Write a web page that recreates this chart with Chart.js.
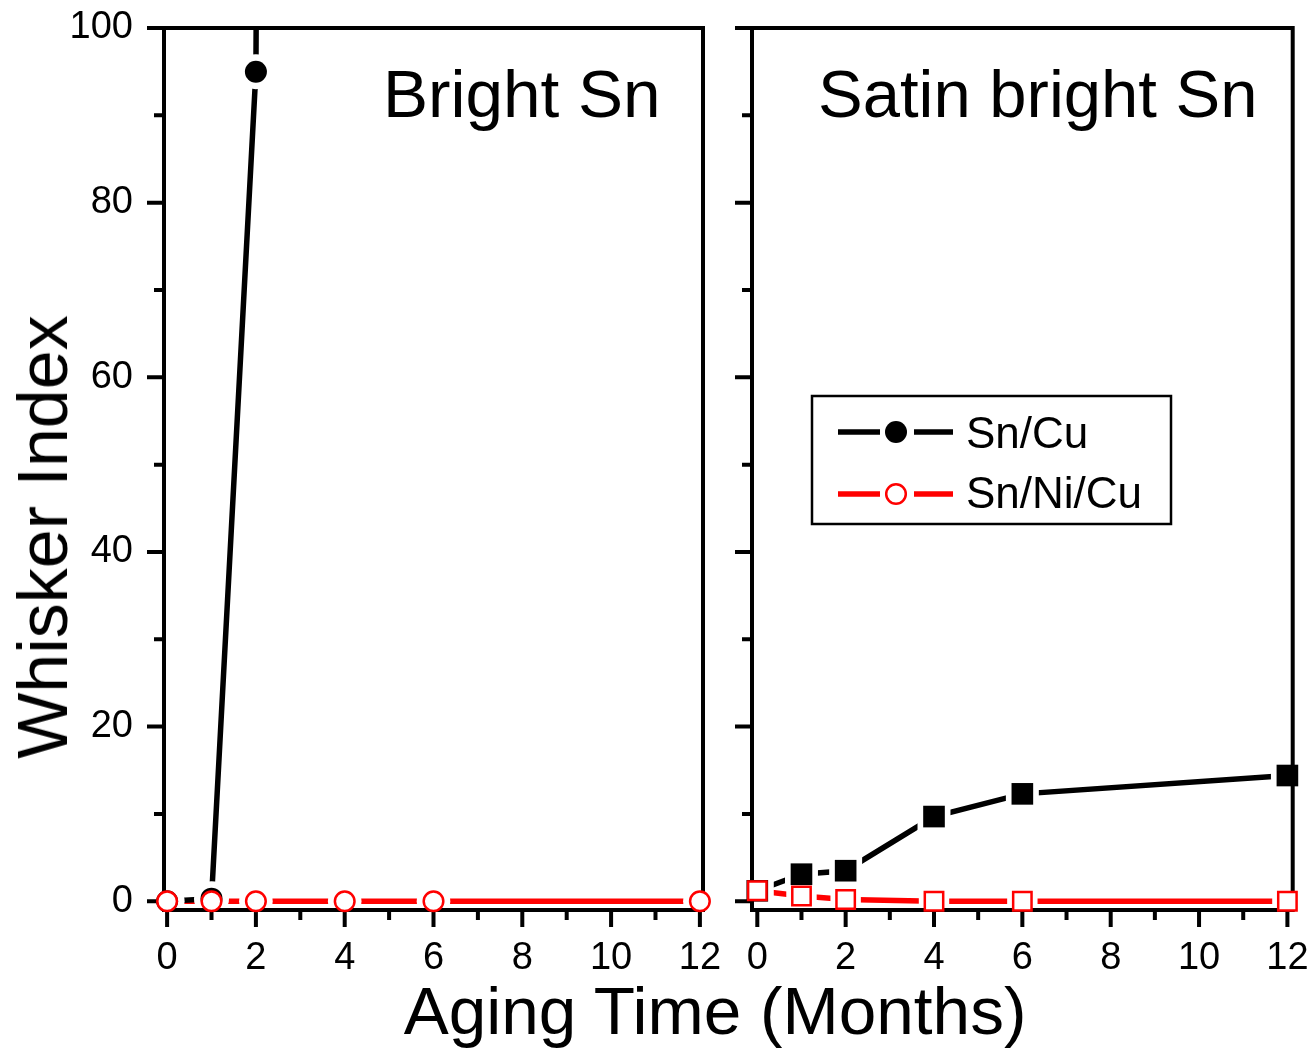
<!DOCTYPE html>
<html>
<head>
<meta charset="utf-8">
<script src="https://cdn.jsdelivr.net/npm/chart.js@4.4.0/dist/chart.umd.min.js"></script>
<style>
  body { margin: 0; background: #fff; }
  #wrap { position: relative; width: 1316px; height: 1053px; overflow: hidden;
          font-family: 'Liberation Sans', Arial, sans-serif; }
  canvas { position: absolute; top: 0; }
  .lbl { position: absolute; white-space: nowrap; line-height: 1; color: #000; z-index: 5; }
</style>
</head>
<body>
<div id="wrap">
  <canvas id="leftPanel" width="740" height="1053" style="left:0;width:740px;height:1053px"></canvas>
  <canvas id="rightPanel" width="596" height="1053" style="left:720px;width:596px;height:1053px"></canvas>
  <div class="lbl" style="left:43px;top:537px;font-size:70px;line-height:70px;transform:translate(-50%,-50%) rotate(-90deg)">Whisker Index</div>
  <div class="lbl" style="left:715px;top:977px;font-size:67.5px;transform:translateX(-50%)">Aging Time (Months)</div>
  <div class="lbl" style="left:383px;top:60px;font-size:67.5px">Bright Sn</div>
  <div class="lbl" style="left:818px;top:60px;font-size:67px">Satin bright Sn</div>
  <div class="lbl" style="left:966px;top:411px;font-size:44px">Sn/Cu</div>
  <div class="lbl" style="left:966px;top:471px;font-size:44px">Sn/Ni/Cu</div>
</div>
<script>
// bright Sn panel (Sn/Cu goes off scale after 2 months)
const brightCuMonths = [0, 1, 2, 4];
const brightSnCu = [0, 0.3, 95, 2000];
const brightNiMonths = [0, 1, 2, 4, 6, 12];
const brightSnNiCu = [0, 0, 0, 0, 0, 0];

// satin bright Sn panel
const satinMonths = [0, 1, 2, 4, 6, 12];
const satinSnCu = [1.2, 3.1, 3.5, 9.7, 12.3, 14.4];
const satinSnNiCu = [1.2, 0.6, 0.2, 0, 0, 0];

const xTicks = [0, 2, 4, 6, 8, 10, 12];
const xMinor = [1, 3, 5, 7, 9, 11];
const yTicks = [0, 20, 40, 60, 80, 100];
const yMinor = [10, 30, 50, 70, 90];

const BLACK = '#000000';
const RED = '#ff0000';
const FONT = "'Liberation Sans', Arial, sans-serif";

const pts = (months, vals) => months.map((m, i) => ({ x: m, y: vals[i] }));

// line, white gap behind the marker, then the marker itself
function series(data, color, style, filled, r, gap, markerOrder, frameFirst) {
  return [
    { data, borderColor: color, borderWidth: 5.5, pointRadius: 0, tension: 0, fill: false, order: 30 },
    { data, showLine: false, pointStyle: style, pointRadius: r + gap, pointBorderWidth: 0,
      pointBackgroundColor: '#fff', pointHoverRadius: 0, clip: false, order: 20 },
    { data, showLine: false, pointStyle: style, pointRadius: r,
      pointBackgroundColor: filled ? color : '#fff', pointBorderColor: color,
      pointBorderWidth: filled ? 0 : 2.5, clip: false, order: markerOrder, frameFirst }
  ];
}

const frameTicks = {
  id: 'frameTicks',
  beforeDatasetDraw(chart, args) {
    if (!chart.data.datasets[args.index].frameFirst) return;
    const { ctx, chartArea: a, scales: { x, y } } = chart;
    ctx.save();
    ctx.strokeStyle = BLACK;
    ctx.lineWidth = 4;
    ctx.beginPath();
    yTicks.forEach(v => { const p = y.getPixelForValue(v); ctx.moveTo(a.left, p); ctx.lineTo(a.left - 17, p); });
    yMinor.forEach(v => { const p = y.getPixelForValue(v); ctx.moveTo(a.left, p); ctx.lineTo(a.left - 10, p); });
    xTicks.forEach(v => { const p = x.getPixelForValue(v); ctx.moveTo(p, a.bottom); ctx.lineTo(p, a.bottom + 17); });
    xMinor.forEach(v => { const p = x.getPixelForValue(v); ctx.moveTo(p, a.bottom); ctx.lineTo(p, a.bottom + 10); });
    ctx.stroke();
    ctx.strokeRect(a.left, a.top, a.right - a.left, a.bottom - a.top);
    ctx.restore();
  }
};

// legend box drawn inside the right panel
const legendBox = {
  id: 'legendBox',
  afterDraw(chart) {
    const ctx = chart.ctx;
    ctx.save();
    ctx.lineWidth = 2.5;
    ctx.strokeStyle = BLACK;
    ctx.strokeRect(92, 396, 359, 128);
    const rows = [
      { y: 432, color: BLACK, filled: true },
      { y: 494, color: RED, filled: false }
    ];
    rows.forEach(row => {
      ctx.strokeStyle = row.color;
      ctx.lineWidth = 5.5;
      ctx.beginPath();
      ctx.moveTo(118, row.y); ctx.lineTo(160, row.y);
      ctx.moveTo(194, row.y); ctx.lineTo(233, row.y);
      ctx.stroke();
      ctx.beginPath();
      if (row.filled) {
        ctx.fillStyle = row.color;
        ctx.arc(176, row.y, 11, 0, Math.PI * 2);
        ctx.fill();
      } else {
        ctx.fillStyle = '#fff';
        ctx.lineWidth = 2.5;
        ctx.arc(176, row.y, 9.8, 0, Math.PI * 2);
        ctx.fill();
        ctx.stroke();
      }
    });
    ctx.restore();
  }
};

function scales(xMin, xMax, yWidth, showY) {
  return {
    x: {
      type: 'linear', min: xMin, max: xMax,
      afterBuildTicks: s => { s.ticks = xTicks.map(v => ({ value: v })); },
      afterFit: s => { s.height = 143; },
      grid: { display: false, drawTicks: true, tickLength: 26 },
      border: { display: false },
      ticks: { padding: 0, color: BLACK, font: { family: FONT, size: 38 }, maxRotation: 0 }
    },
    y: {
      type: 'linear', min: -1, max: 100,
      afterBuildTicks: s => { s.ticks = yTicks.map(v => ({ value: v })); },
      afterFit: s => { s.width = yWidth; },
      grid: { display: false, drawTicks: true, tickLength: 31 },
      border: { display: false },
      ticks: { display: showY, padding: 0, color: BLACK, font: { family: FONT, size: 38 } }
    }
  };
}

const common = {
  responsive: false,
  animation: false,
  events: [],
  plugins: { legend: { display: false }, tooltip: { enabled: false } }
};

new Chart(document.getElementById('leftPanel'), {
  type: 'line',
  data: {
    datasets: [
      ...series(pts(brightCuMonths, brightSnCu), BLACK, 'circle', true, 11, 6.5, 10, true),
      ...series(pts(brightNiMonths, brightSnNiCu), RED, 'circle', false, 9.8, 7, 5, false)
    ]
  },
  options: {
    ...common,
    layout: { padding: { top: 28, right: 37, left: 0, bottom: 0 } },
    scales: scales(-0.07, 12.07, 164, true)
  },
  plugins: [frameTicks]
});

new Chart(document.getElementById('rightPanel'), {
  type: 'line',
  data: {
    datasets: [
      ...series(pts(satinMonths, satinSnCu), BLACK, 'rect', true, 15.3, 8, 10, true),
      ...series(pts(satinMonths, satinSnNiCu), RED, 'rect', false, 13, 8.5, 5, false)
    ]
  },
  options: {
    ...common,
    layout: { padding: { top: 28, right: 21, left: 0, bottom: 0 } },
    scales: scales(-0.12, 12.12, 32, false)
  },
  plugins: [frameTicks, legendBox]
});
</script>
</body>
</html>
